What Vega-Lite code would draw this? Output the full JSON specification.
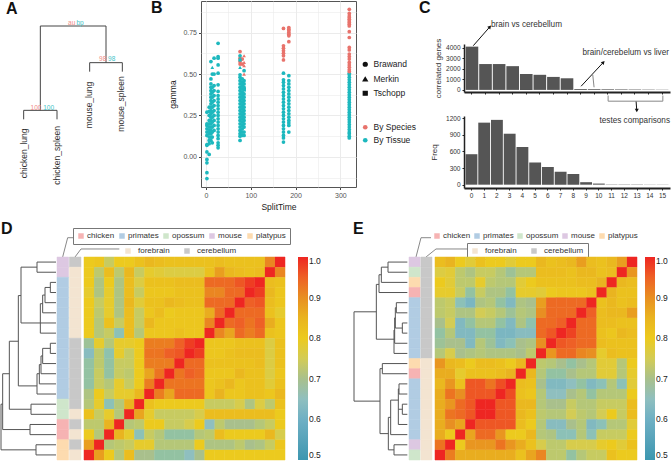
{"$schema":"https://vega.github.io/schema/vega-lite/v6.json","padding":0,"background":"white","config":{"font":"Liberation Sans","view":{"stroke":null},"axis":{"titleFontWeight":"normal"}},"spacing":8,"resolve":{"scale":{"color":"independent","shape":"independent","stroke":"independent"},"legend":{"color":"independent","shape":"independent"}},
"datasets":{
"pts":[
{"t":320,"g":0.115,"k":"By Tissue","s":"Brawand"},{"t":320,"g":0.125,"k":"By Tissue","s":"Brawand"},{"t":320,"g":0.14,"k":"By Tissue","s":"Brawand"},{"t":320,"g":0.15,"k":"By Tissue","s":"Brawand"},{"t":320,"g":0.165,"k":"By Tissue","s":"Brawand"},{"t":320,"g":0.18,"k":"By Tissue","s":"Brawand"},{"t":320,"g":0.195,"k":"By Tissue","s":"Brawand"},{"t":320,"g":0.21,"k":"By Tissue","s":"Brawand"},{"t":320,"g":0.225,"k":"By Tissue","s":"Brawand"},{"t":320,"g":0.24,"k":"By Tissue","s":"Brawand"},{"t":320,"g":0.255,"k":"By Tissue","s":"Brawand"},{"t":320,"g":0.27,"k":"By Tissue","s":"Brawand"},{"t":320,"g":0.285,"k":"By Tissue","s":"Brawand"},{"t":320,"g":0.3,"k":"By Tissue","s":"Brawand"},{"t":320,"g":0.315,"k":"By Tissue","s":"Brawand"},{"t":320,"g":0.33,"k":"By Tissue","s":"Brawand"},{"t":320,"g":0.345,"k":"By Tissue","s":"Brawand"},{"t":320,"g":0.36,"k":"By Tissue","s":"Brawand"},{"t":320,"g":0.375,"k":"By Tissue","s":"Brawand"},{"t":320,"g":0.39,"k":"By Tissue","s":"Brawand"},{"t":320,"g":0.405,"k":"By Tissue","s":"Brawand"},{"t":320,"g":0.42,"k":"By Tissue","s":"Brawand"},{"t":320,"g":0.435,"k":"By Tissue","s":"Brawand"},{"t":320,"g":0.45,"k":"By Tissue","s":"Brawand"},{"t":320,"g":0.465,"k":"By Tissue","s":"Brawand"},{"t":320,"g":0.48,"k":"By Tissue","s":"Brawand"},{"t":320,"g":0.495,"k":"By Tissue","s":"Brawand"},{"t":320,"g":0.505,"k":"By Tissue","s":"Brawand"},
{"t":320,"g":0.89,"k":"By Species","s":"Brawand"},{"t":320,"g":0.865,"k":"By Species","s":"Brawand"},{"t":320,"g":0.85,"k":"By Species","s":"Brawand"},{"t":320,"g":0.84,"k":"By Species","s":"Brawand"},{"t":320,"g":0.83,"k":"By Species","s":"Brawand"},{"t":320,"g":0.82,"k":"By Species","s":"Brawand"},{"t":320,"g":0.81,"k":"By Species","s":"Brawand"},{"t":320,"g":0.8,"k":"By Species","s":"Brawand"},{"t":320,"g":0.79,"k":"By Species","s":"Brawand"},{"t":320,"g":0.755,"k":"By Species","s":"Brawand"},{"t":320,"g":0.72,"k":"By Species","s":"Brawand"},{"t":320,"g":0.66,"k":"By Species","s":"Brawand"},{"t":320,"g":0.645,"k":"By Species","s":"Brawand"},{"t":320,"g":0.62,"k":"By Species","s":"Brawand"},{"t":320,"g":0.605,"k":"By Species","s":"Brawand"},{"t":320,"g":0.59,"k":"By Species","s":"Brawand"},{"t":320,"g":0.57,"k":"By Species","s":"Brawand"},{"t":320,"g":0.555,"k":"By Species","s":"Brawand"},{"t":320,"g":0.54,"k":"By Species","s":"Brawand"},{"t":320,"g":0.525,"k":"By Species","s":"Brawand"},{"t":320,"g":0.515,"k":"By Species","s":"Brawand"},
{"t":173,"g":0.09,"k":"By Tissue","s":"Brawand"},{"t":173,"g":0.115,"k":"By Tissue","s":"Brawand"},{"t":173,"g":0.13,"k":"By Tissue","s":"Brawand"},{"t":173,"g":0.15,"k":"By Tissue","s":"Brawand"},{"t":173,"g":0.17,"k":"By Tissue","s":"Brawand"},{"t":173,"g":0.19,"k":"By Tissue","s":"Brawand"},{"t":173,"g":0.21,"k":"By Tissue","s":"Brawand"},{"t":173,"g":0.23,"k":"By Tissue","s":"Brawand"},{"t":173,"g":0.25,"k":"By Tissue","s":"Brawand"},{"t":173,"g":0.27,"k":"By Tissue","s":"Brawand"},{"t":173,"g":0.29,"k":"By Tissue","s":"Brawand"},{"t":173,"g":0.31,"k":"By Tissue","s":"Brawand"},{"t":173,"g":0.33,"k":"By Tissue","s":"Brawand"},{"t":173,"g":0.35,"k":"By Tissue","s":"Brawand"},{"t":173,"g":0.37,"k":"By Tissue","s":"Brawand"},{"t":173,"g":0.39,"k":"By Tissue","s":"Brawand"},{"t":173,"g":0.41,"k":"By Tissue","s":"Brawand"},{"t":173,"g":0.43,"k":"By Tissue","s":"Brawand"},{"t":173,"g":0.45,"k":"By Tissue","s":"Brawand"},{"t":173,"g":0.465,"k":"By Tissue","s":"Brawand"},{"t":173,"g":0.505,"k":"By Tissue","s":"Brawand"},
{"t":173,"g":0.585,"k":"By Species","s":"Brawand"},{"t":173,"g":0.61,"k":"By Species","s":"Brawand"},{"t":173,"g":0.625,"k":"By Species","s":"Brawand"},{"t":173,"g":0.64,"k":"By Species","s":"Brawand"},{"t":173,"g":0.655,"k":"By Species","s":"Brawand"},{"t":173,"g":0.67,"k":"By Species","s":"Brawand"},{"t":173,"g":0.775,"k":"By Species","s":"Brawand"},
{"t":185,"g":0.15,"k":"By Tissue","s":"Brawand"},{"t":185,"g":0.19,"k":"By Tissue","s":"Brawand"},{"t":185,"g":0.205,"k":"By Tissue","s":"Brawand"},{"t":185,"g":0.22,"k":"By Tissue","s":"Brawand"},{"t":185,"g":0.24,"k":"By Tissue","s":"Brawand"},{"t":185,"g":0.26,"k":"By Tissue","s":"Brawand"},{"t":185,"g":0.28,"k":"By Tissue","s":"Brawand"},{"t":185,"g":0.3,"k":"By Tissue","s":"Brawand"},{"t":185,"g":0.32,"k":"By Tissue","s":"Brawand"},{"t":185,"g":0.34,"k":"By Tissue","s":"Brawand"},{"t":185,"g":0.36,"k":"By Tissue","s":"Brawand"},{"t":185,"g":0.38,"k":"By Tissue","s":"Brawand"},{"t":185,"g":0.4,"k":"By Tissue","s":"Brawand"},{"t":185,"g":0.42,"k":"By Tissue","s":"Brawand"},{"t":185,"g":0.44,"k":"By Tissue","s":"Brawand"},{"t":185,"g":0.46,"k":"By Tissue","s":"Brawand"},{"t":185,"g":0.49,"k":"By Tissue","s":"Brawand"},
{"t":185,"g":0.695,"k":"By Species","s":"Brawand"},{"t":185,"g":0.73,"k":"By Species","s":"Brawand"},{"t":185,"g":0.74,"k":"By Species","s":"Brawand"},{"t":185,"g":0.75,"k":"By Species","s":"Brawand"},{"t":185,"g":0.76,"k":"By Species","s":"Brawand"},{"t":185,"g":0.77,"k":"By Species","s":"Brawand"},{"t":185,"g":0.78,"k":"By Species","s":"Brawand"},
{"t":76,"g":0.635,"k":"By Species","s":"Brawand"},{"t":76,"g":0.595,"k":"By Species","s":"Brawand"},{"t":76,"g":0.575,"k":"By Species","s":"Brawand"},{"t":76,"g":0.56,"k":"By Species","s":"Brawand"},{"t":81,"g":0.59,"k":"By Species","s":"Brawand"},{"t":81,"g":0.56,"k":"By Species","s":"Brawand"},{"t":85,"g":0.61,"k":"By Species","s":"Merkin"},{"t":85,"g":0.57,"k":"By Species","s":"Merkin"},{"t":85,"g":0.55,"k":"By Species","s":"Merkin"},{"t":85,"g":0.5,"k":"By Species","s":"Merkin"},
{"t":76,"g":0.1,"k":"By Tissue","s":"Brawand"},{"t":76,"g":0.125,"k":"By Tissue","s":"Brawand"},{"t":76,"g":0.14,"k":"By Tissue","s":"Brawand"},{"t":76,"g":0.16,"k":"By Tissue","s":"Brawand"},{"t":76,"g":0.18,"k":"By Tissue","s":"Brawand"},{"t":76,"g":0.2,"k":"By Tissue","s":"Brawand"},{"t":76,"g":0.22,"k":"By Tissue","s":"Brawand"},{"t":76,"g":0.24,"k":"By Tissue","s":"Brawand"},{"t":76,"g":0.26,"k":"By Tissue","s":"Brawand"},{"t":76,"g":0.28,"k":"By Tissue","s":"Brawand"},{"t":76,"g":0.3,"k":"By Tissue","s":"Brawand"},{"t":76,"g":0.32,"k":"By Tissue","s":"Brawand"},{"t":76,"g":0.34,"k":"By Tissue","s":"Brawand"},{"t":76,"g":0.36,"k":"By Tissue","s":"Brawand"},{"t":76,"g":0.38,"k":"By Tissue","s":"Brawand"},{"t":76,"g":0.4,"k":"By Tissue","s":"Brawand"},{"t":76,"g":0.42,"k":"By Tissue","s":"Brawand"},{"t":76,"g":0.44,"k":"By Tissue","s":"Brawand"},{"t":76,"g":0.46,"k":"By Tissue","s":"Brawand"},{"t":76,"g":0.48,"k":"By Tissue","s":"Brawand"},{"t":76,"g":0.495,"k":"By Tissue","s":"Brawand"},{"t":76,"g":0.54,"k":"By Tissue","s":"Merkin"},{"t":76,"g":0.585,"k":"By Tissue","s":"Brawand"},{"t":76,"g":0.61,"k":"By Tissue","s":"Brawand"},
{"t":81,"g":0.13,"k":"By Tissue","s":"Brawand"},{"t":81,"g":0.15,"k":"By Tissue","s":"Brawand"},{"t":81,"g":0.17,"k":"By Tissue","s":"Brawand"},{"t":81,"g":0.19,"k":"By Tissue","s":"Brawand"},{"t":81,"g":0.21,"k":"By Tissue","s":"Brawand"},{"t":81,"g":0.23,"k":"By Tissue","s":"Brawand"},{"t":81,"g":0.25,"k":"By Tissue","s":"Brawand"},{"t":81,"g":0.27,"k":"By Tissue","s":"Brawand"},{"t":81,"g":0.29,"k":"By Tissue","s":"Brawand"},{"t":81,"g":0.31,"k":"By Tissue","s":"Brawand"},{"t":81,"g":0.33,"k":"By Tissue","s":"Brawand"},{"t":81,"g":0.35,"k":"By Tissue","s":"Brawand"},{"t":81,"g":0.37,"k":"By Tissue","s":"Brawand"},{"t":81,"g":0.39,"k":"By Tissue","s":"Brawand"},{"t":81,"g":0.41,"k":"By Tissue","s":"Brawand"},{"t":81,"g":0.43,"k":"By Tissue","s":"Brawand"},{"t":81,"g":0.45,"k":"By Tissue","s":"Brawand"},{"t":81,"g":0.47,"k":"By Tissue","s":"Brawand"},
{"t":85,"g":0.13,"k":"By Tissue","s":"Brawand"},{"t":85,"g":0.15,"k":"By Tissue","s":"Brawand"},{"t":85,"g":0.18,"k":"By Tissue","s":"Brawand"},{"t":85,"g":0.2,"k":"By Tissue","s":"Brawand"},{"t":85,"g":0.22,"k":"By Tissue","s":"Brawand"},{"t":85,"g":0.24,"k":"By Tissue","s":"Brawand"},{"t":85,"g":0.26,"k":"By Tissue","s":"Brawand"},{"t":85,"g":0.28,"k":"By Tissue","s":"Brawand"},{"t":85,"g":0.3,"k":"By Tissue","s":"Brawand"},{"t":85,"g":0.32,"k":"By Tissue","s":"Brawand"},{"t":85,"g":0.34,"k":"By Tissue","s":"Brawand"},{"t":85,"g":0.36,"k":"By Tissue","s":"Brawand"},{"t":85,"g":0.38,"k":"By Tissue","s":"Brawand"},{"t":85,"g":0.405,"k":"By Tissue","s":"Tschopp"},{"t":85,"g":0.42,"k":"By Tissue","s":"Brawand"},{"t":85,"g":0.44,"k":"By Tissue","s":"Brawand"},{"t":85,"g":0.46,"k":"By Tissue","s":"Brawand"},{"t":85,"g":0.52,"k":"By Tissue","s":"Brawand"},
{"t":2,"g":-0.13,"k":"By Tissue","s":"Brawand"},{"t":2,"g":-0.095,"k":"By Tissue","s":"Brawand"},{"t":2,"g":-0.035,"k":"By Tissue","s":"Brawand"},{"t":2,"g":-0.015,"k":"By Tissue","s":"Brawand"},{"t":2,"g":0.03,"k":"By Tissue","s":"Brawand"},{"t":2,"g":0.07,"k":"By Tissue","s":"Brawand"},{"t":2,"g":0.075,"k":"By Tissue","s":"Brawand"},{"t":2,"g":0.13,"k":"By Tissue","s":"Brawand"},{"t":2,"g":0.15,"k":"By Tissue","s":"Brawand"},{"t":2,"g":0.17,"k":"By Tissue","s":"Brawand"},{"t":2,"g":0.19,"k":"By Tissue","s":"Brawand"},{"t":2,"g":0.2,"k":"By Tissue","s":"Brawand"},{"t":2,"g":0.27,"k":"By Tissue","s":"Brawand"},
{"t":7,"g":0.015,"k":"By Tissue","s":"Brawand"},{"t":7,"g":0.08,"k":"By Tissue","s":"Brawand"},{"t":7,"g":0.1,"k":"By Tissue","s":"Brawand"},{"t":7,"g":0.12,"k":"By Tissue","s":"Brawand"},{"t":7,"g":0.14,"k":"By Tissue","s":"Brawand"},{"t":7,"g":0.16,"k":"By Tissue","s":"Brawand"},{"t":7,"g":0.18,"k":"By Tissue","s":"Brawand"},{"t":7,"g":0.2,"k":"By Tissue","s":"Brawand"},{"t":7,"g":0.22,"k":"By Tissue","s":"Brawand"},{"t":7,"g":0.25,"k":"By Tissue","s":"Brawand"},{"t":7,"g":0.275,"k":"By Tissue","s":"Brawand"},{"t":7,"g":0.3,"k":"By Tissue","s":"Brawand"},
{"t":11,"g":0.1,"k":"By Tissue","s":"Brawand"},{"t":11,"g":0.12,"k":"By Tissue","s":"Brawand"},{"t":11,"g":0.14,"k":"By Tissue","s":"Brawand"},{"t":11,"g":0.16,"k":"By Tissue","s":"Brawand"},{"t":11,"g":0.18,"k":"By Tissue","s":"Brawand"},{"t":11,"g":0.2,"k":"By Tissue","s":"Brawand"},{"t":11,"g":0.22,"k":"By Tissue","s":"Brawand"},{"t":11,"g":0.24,"k":"By Tissue","s":"Brawand"},{"t":11,"g":0.26,"k":"By Tissue","s":"Brawand"},{"t":11,"g":0.28,"k":"By Tissue","s":"Brawand"},{"t":11,"g":0.3,"k":"By Tissue","s":"Brawand"},{"t":11,"g":0.32,"k":"By Tissue","s":"Brawand"},{"t":11,"g":0.34,"k":"By Tissue","s":"Brawand"},{"t":11,"g":0.36,"k":"By Tissue","s":"Brawand"},{"t":11,"g":0.38,"k":"By Tissue","s":"Brawand"},{"t":11,"g":0.4,"k":"By Tissue","s":"Brawand"},{"t":11,"g":0.42,"k":"By Tissue","s":"Brawand"},{"t":11,"g":0.44,"k":"By Tissue","s":"Brawand"},{"t":11,"g":0.47,"k":"By Tissue","s":"Brawand"},{"t":11,"g":0.575,"k":"By Tissue","s":"Brawand"},
{"t":14,"g":0.085,"k":"By Tissue","s":"Brawand"},{"t":14,"g":0.12,"k":"By Tissue","s":"Brawand"},{"t":14,"g":0.15,"k":"By Tissue","s":"Brawand"},{"t":14,"g":0.18,"k":"By Tissue","s":"Brawand"},{"t":14,"g":0.21,"k":"By Tissue","s":"Brawand"},{"t":14,"g":0.24,"k":"By Tissue","s":"Brawand"},{"t":14,"g":0.27,"k":"By Tissue","s":"Brawand"},{"t":14,"g":0.3,"k":"By Tissue","s":"Brawand"},{"t":14,"g":0.33,"k":"By Tissue","s":"Brawand"},{"t":14,"g":0.36,"k":"By Tissue","s":"Brawand"},{"t":14,"g":0.39,"k":"By Tissue","s":"Brawand"},{"t":14,"g":0.42,"k":"By Tissue","s":"Brawand"},{"t":14,"g":0.5,"k":"By Tissue","s":"Brawand"},{"t":14,"g":0.54,"k":"By Tissue","s":"Merkin"},
{"t":18,"g":0.16,"k":"By Tissue","s":"Brawand"},{"t":18,"g":0.19,"k":"By Tissue","s":"Brawand"},{"t":18,"g":0.22,"k":"By Tissue","s":"Brawand"},{"t":18,"g":0.25,"k":"By Tissue","s":"Brawand"},{"t":18,"g":0.28,"k":"By Tissue","s":"Brawand"},{"t":18,"g":0.31,"k":"By Tissue","s":"Brawand"},{"t":18,"g":0.34,"k":"By Tissue","s":"Brawand"},{"t":18,"g":0.37,"k":"By Tissue","s":"Brawand"},{"t":18,"g":0.4,"k":"By Tissue","s":"Brawand"},{"t":18,"g":0.43,"k":"By Tissue","s":"Brawand"},{"t":18,"g":0.5,"k":"By Tissue","s":"Brawand"},{"t":18,"g":0.595,"k":"By Tissue","s":"Brawand"},
{"t":27,"g":0.055,"k":"By Tissue","s":"Brawand"},{"t":27,"g":0.07,"k":"By Tissue","s":"Brawand"},{"t":27,"g":0.085,"k":"By Tissue","s":"Brawand"},{"t":27,"g":0.11,"k":"By Tissue","s":"Brawand"},{"t":27,"g":0.13,"k":"By Tissue","s":"Brawand"},{"t":27,"g":0.15,"k":"By Tissue","s":"Brawand"},{"t":27,"g":0.17,"k":"By Tissue","s":"Brawand"},{"t":27,"g":0.19,"k":"By Tissue","s":"Brawand"},{"t":27,"g":0.21,"k":"By Tissue","s":"Brawand"},{"t":27,"g":0.23,"k":"By Tissue","s":"Brawand"},{"t":27,"g":0.25,"k":"By Tissue","s":"Brawand"},{"t":27,"g":0.27,"k":"By Tissue","s":"Brawand"},{"t":27,"g":0.29,"k":"By Tissue","s":"Brawand"},{"t":27,"g":0.31,"k":"By Tissue","s":"Brawand"},{"t":27,"g":0.33,"k":"By Tissue","s":"Brawand"},{"t":27,"g":0.35,"k":"By Tissue","s":"Brawand"},{"t":27,"g":0.37,"k":"By Tissue","s":"Brawand"},{"t":27,"g":0.395,"k":"By Tissue","s":"Brawand"},{"t":27,"g":0.435,"k":"By Tissue","s":"Brawand"},{"t":27,"g":0.505,"k":"By Tissue","s":"Brawand"},{"t":27,"g":0.555,"k":"By Tissue","s":"Brawand"},{"t":27,"g":0.595,"k":"By Tissue","s":"Brawand"},{"t":27,"g":0.605,"k":"By Tissue","s":"Brawand"},{"t":27,"g":0.685,"k":"By Tissue","s":"Brawand"}
],
"hd":[
{"r":0,"c":0,"v":0.8},{"r":0,"c":1,"v":0.81},{"r":0,"c":2,"v":0.74},{"r":0,"c":3,"v":0.8},{"r":0,"c":4,"v":0.8},{"r":0,"c":5,"v":0.82},{"r":0,"c":6,"v":0.84},{"r":0,"c":7,"v":0.83},{"r":0,"c":8,"v":0.82},{"r":0,"c":9,"v":0.82},{"r":0,"c":10,"v":0.82},{"r":0,"c":11,"v":0.82},{"r":0,"c":12,"v":0.82},{"r":0,"c":13,"v":0.83},{"r":0,"c":14,"v":0.82},{"r":0,"c":15,"v":0.82},{"r":0,"c":16,"v":0.82},{"r":0,"c":17,"v":0.82},{"r":0,"c":18,"v":0.91},{"r":0,"c":19,"v":1},
{"r":1,"c":0,"v":0.8},{"r":1,"c":1,"v":0.73},{"r":1,"c":2,"v":0.83},{"r":1,"c":3,"v":0.73},{"r":1,"c":4,"v":0.84},{"r":1,"c":5,"v":0.74},{"r":1,"c":6,"v":0.79},{"r":1,"c":7,"v":0.78},{"r":1,"c":8,"v":0.77},{"r":1,"c":9,"v":0.77},{"r":1,"c":10,"v":0.77},{"r":1,"c":11,"v":0.77},{"r":1,"c":12,"v":0.82},{"r":1,"c":13,"v":0.88},{"r":1,"c":14,"v":0.84},{"r":1,"c":15,"v":0.83},{"r":1,"c":16,"v":0.82},{"r":1,"c":17,"v":0.83},{"r":1,"c":18,"v":1},{"r":1,"c":19,"v":0.91},
{"r":2,"c":0,"v":0.8},{"r":2,"c":1,"v":0.71},{"r":2,"c":2,"v":0.8},{"r":2,"c":3,"v":0.71},{"r":2,"c":4,"v":0.83},{"r":2,"c":5,"v":0.77},{"r":2,"c":6,"v":0.82},{"r":2,"c":7,"v":0.82},{"r":2,"c":8,"v":0.82},{"r":2,"c":9,"v":0.83},{"r":2,"c":10,"v":0.83},{"r":2,"c":11,"v":0.83},{"r":2,"c":12,"v":0.94},{"r":2,"c":13,"v":0.94},{"r":2,"c":14,"v":0.94},{"r":2,"c":15,"v":0.96},{"r":2,"c":16,"v":0.985},{"r":2,"c":17,"v":1},{"r":2,"c":18,"v":0.83},{"r":2,"c":19,"v":0.82},
{"r":3,"c":0,"v":0.79},{"r":3,"c":1,"v":0.71},{"r":3,"c":2,"v":0.79},{"r":3,"c":3,"v":0.71},{"r":3,"c":4,"v":0.83},{"r":3,"c":5,"v":0.74},{"r":3,"c":6,"v":0.81},{"r":3,"c":7,"v":0.81},{"r":3,"c":8,"v":0.81},{"r":3,"c":9,"v":0.82},{"r":3,"c":10,"v":0.82},{"r":3,"c":11,"v":0.82},{"r":3,"c":12,"v":0.91},{"r":3,"c":13,"v":0.91},{"r":3,"c":14,"v":0.94},{"r":3,"c":15,"v":0.94},{"r":3,"c":16,"v":1},{"r":3,"c":17,"v":0.985},{"r":3,"c":18,"v":0.84},{"r":3,"c":19,"v":0.81},
{"r":4,"c":0,"v":0.8},{"r":4,"c":1,"v":0.74},{"r":4,"c":2,"v":0.79},{"r":4,"c":3,"v":0.71},{"r":4,"c":4,"v":0.84},{"r":4,"c":5,"v":0.78},{"r":4,"c":6,"v":0.82},{"r":4,"c":7,"v":0.82},{"r":4,"c":8,"v":0.84},{"r":4,"c":9,"v":0.83},{"r":4,"c":10,"v":0.82},{"r":4,"c":11,"v":0.82},{"r":4,"c":12,"v":0.94},{"r":4,"c":13,"v":0.94},{"r":4,"c":14,"v":0.94},{"r":4,"c":15,"v":1},{"r":4,"c":16,"v":0.95},{"r":4,"c":17,"v":0.96},{"r":4,"c":18,"v":0.83},{"r":4,"c":19,"v":0.81},
{"r":5,"c":0,"v":0.8},{"r":5,"c":1,"v":0.73},{"r":5,"c":2,"v":0.79},{"r":5,"c":3,"v":0.71},{"r":5,"c":4,"v":0.83},{"r":5,"c":5,"v":0.74},{"r":5,"c":6,"v":0.81},{"r":5,"c":7,"v":0.83},{"r":5,"c":8,"v":0.8},{"r":5,"c":9,"v":0.81},{"r":5,"c":10,"v":0.81},{"r":5,"c":11,"v":0.81},{"r":5,"c":12,"v":0.86},{"r":5,"c":13,"v":0.94},{"r":5,"c":14,"v":1},{"r":5,"c":15,"v":0.94},{"r":5,"c":16,"v":0.94},{"r":5,"c":17,"v":0.94},{"r":5,"c":18,"v":0.82},{"r":5,"c":19,"v":0.79},
{"r":6,"c":0,"v":0.8},{"r":6,"c":1,"v":0.72},{"r":6,"c":2,"v":0.82},{"r":6,"c":3,"v":0.74},{"r":6,"c":4,"v":0.83},{"r":6,"c":5,"v":0.74},{"r":6,"c":6,"v":0.84},{"r":6,"c":7,"v":0.81},{"r":6,"c":8,"v":0.81},{"r":6,"c":9,"v":0.81},{"r":6,"c":10,"v":0.81},{"r":6,"c":11,"v":0.81},{"r":6,"c":12,"v":0.91},{"r":6,"c":13,"v":1},{"r":6,"c":14,"v":0.94},{"r":6,"c":15,"v":0.95},{"r":6,"c":16,"v":0.93},{"r":6,"c":17,"v":0.95},{"r":6,"c":18,"v":0.86},{"r":6,"c":19,"v":0.81},
{"r":7,"c":0,"v":0.8},{"r":7,"c":1,"v":0.72},{"r":7,"c":2,"v":0.74},{"r":7,"c":3,"v":0.66},{"r":7,"c":4,"v":0.83},{"r":7,"c":5,"v":0.72},{"r":7,"c":6,"v":0.81},{"r":7,"c":7,"v":0.81},{"r":7,"c":8,"v":0.81},{"r":7,"c":9,"v":0.82},{"r":7,"c":10,"v":0.81},{"r":7,"c":11,"v":0.81},{"r":7,"c":12,"v":1},{"r":7,"c":13,"v":0.91},{"r":7,"c":14,"v":0.87},{"r":7,"c":15,"v":0.94},{"r":7,"c":16,"v":0.92},{"r":7,"c":17,"v":0.94},{"r":7,"c":18,"v":0.82},{"r":7,"c":19,"v":0.81},
{"r":8,"c":0,"v":0.69},{"r":8,"c":1,"v":0.79},{"r":8,"c":2,"v":0.72},{"r":8,"c":3,"v":0.79},{"r":8,"c":4,"v":0.79},{"r":8,"c":5,"v":0.8},{"r":8,"c":6,"v":0.92},{"r":8,"c":7,"v":0.92},{"r":8,"c":8,"v":0.92},{"r":8,"c":9,"v":0.95},{"r":8,"c":10,"v":0.985},{"r":8,"c":11,"v":1},{"r":8,"c":12,"v":0.81},{"r":8,"c":13,"v":0.81},{"r":8,"c":14,"v":0.81},{"r":8,"c":15,"v":0.82},{"r":8,"c":16,"v":0.82},{"r":8,"c":17,"v":0.82},{"r":8,"c":18,"v":0.77},{"r":8,"c":19,"v":0.82},
{"r":9,"c":0,"v":0.64},{"r":9,"c":1,"v":0.73},{"r":9,"c":2,"v":0.67},{"r":9,"c":3,"v":0.79},{"r":9,"c":4,"v":0.74},{"r":9,"c":5,"v":0.8},{"r":9,"c":6,"v":0.93},{"r":9,"c":7,"v":0.93},{"r":9,"c":8,"v":0.95},{"r":9,"c":9,"v":0.96},{"r":9,"c":10,"v":1},{"r":9,"c":11,"v":0.985},{"r":9,"c":12,"v":0.81},{"r":9,"c":13,"v":0.81},{"r":9,"c":14,"v":0.82},{"r":9,"c":15,"v":0.83},{"r":9,"c":16,"v":0.83},{"r":9,"c":17,"v":0.83},{"r":9,"c":18,"v":0.77},{"r":9,"c":19,"v":0.82},
{"r":10,"c":0,"v":0.68},{"r":10,"c":1,"v":0.73},{"r":10,"c":2,"v":0.68},{"r":10,"c":3,"v":0.74},{"r":10,"c":4,"v":0.74},{"r":10,"c":5,"v":0.8},{"r":10,"c":6,"v":0.92},{"r":10,"c":7,"v":0.92},{"r":10,"c":8,"v":0.92},{"r":10,"c":9,"v":1},{"r":10,"c":10,"v":0.94},{"r":10,"c":11,"v":0.94},{"r":10,"c":12,"v":0.82},{"r":10,"c":13,"v":0.82},{"r":10,"c":14,"v":0.82},{"r":10,"c":15,"v":0.82},{"r":10,"c":16,"v":0.82},{"r":10,"c":17,"v":0.83},{"r":10,"c":18,"v":0.77},{"r":10,"c":19,"v":0.82},
{"r":11,"c":0,"v":0.68},{"r":11,"c":1,"v":0.74},{"r":11,"c":2,"v":0.68},{"r":11,"c":3,"v":0.74},{"r":11,"c":4,"v":0.73},{"r":11,"c":5,"v":0.8},{"r":11,"c":6,"v":0.87},{"r":11,"c":7,"v":0.93},{"r":11,"c":8,"v":1},{"r":11,"c":9,"v":0.93},{"r":11,"c":10,"v":0.95},{"r":11,"c":11,"v":0.94},{"r":11,"c":12,"v":0.81},{"r":11,"c":13,"v":0.81},{"r":11,"c":14,"v":0.81},{"r":11,"c":15,"v":0.84},{"r":11,"c":16,"v":0.82},{"r":11,"c":17,"v":0.82},{"r":11,"c":18,"v":0.77},{"r":11,"c":19,"v":0.81},
{"r":12,"c":0,"v":0.68},{"r":12,"c":1,"v":0.74},{"r":12,"c":2,"v":0.72},{"r":12,"c":3,"v":0.79},{"r":12,"c":4,"v":0.74},{"r":12,"c":5,"v":0.8},{"r":12,"c":6,"v":0.92},{"r":12,"c":7,"v":1},{"r":12,"c":8,"v":0.93},{"r":12,"c":9,"v":0.93},{"r":12,"c":10,"v":0.93},{"r":12,"c":11,"v":0.93},{"r":12,"c":12,"v":0.81},{"r":12,"c":13,"v":0.82},{"r":12,"c":14,"v":0.84},{"r":12,"c":15,"v":0.81},{"r":12,"c":16,"v":0.82},{"r":12,"c":17,"v":0.82},{"r":12,"c":18,"v":0.78},{"r":12,"c":19,"v":0.82},
{"r":13,"c":0,"v":0.71},{"r":13,"c":1,"v":0.8},{"r":13,"c":2,"v":0.74},{"r":13,"c":3,"v":0.79},{"r":13,"c":4,"v":0.79},{"r":13,"c":5,"v":0.84},{"r":13,"c":6,"v":1},{"r":13,"c":7,"v":0.92},{"r":13,"c":8,"v":0.87},{"r":13,"c":9,"v":0.94},{"r":13,"c":10,"v":0.94},{"r":13,"c":11,"v":0.94},{"r":13,"c":12,"v":0.81},{"r":13,"c":13,"v":0.85},{"r":13,"c":14,"v":0.81},{"r":13,"c":15,"v":0.81},{"r":13,"c":16,"v":0.82},{"r":13,"c":17,"v":0.82},{"r":13,"c":18,"v":0.81},{"r":13,"c":19,"v":0.84},
{"r":14,"c":0,"v":0.72},{"r":14,"c":1,"v":0.79},{"r":14,"c":2,"v":0.66},{"r":14,"c":3,"v":0.72},{"r":14,"c":4,"v":0.85},{"r":14,"c":5,"v":1},{"r":14,"c":6,"v":0.82},{"r":14,"c":7,"v":0.8},{"r":14,"c":8,"v":0.8},{"r":14,"c":9,"v":0.8},{"r":14,"c":10,"v":0.8},{"r":14,"c":11,"v":0.8},{"r":14,"c":12,"v":0.74},{"r":14,"c":13,"v":0.74},{"r":14,"c":14,"v":0.74},{"r":14,"c":15,"v":0.76},{"r":14,"c":16,"v":0.71},{"r":14,"c":17,"v":0.77},{"r":14,"c":18,"v":0.73},{"r":14,"c":19,"v":0.82},
{"r":15,"c":0,"v":0.82},{"r":15,"c":1,"v":0.74},{"r":15,"c":2,"v":0.79},{"r":15,"c":3,"v":0.72},{"r":15,"c":4,"v":1},{"r":15,"c":5,"v":0.87},{"r":15,"c":6,"v":0.79},{"r":15,"c":7,"v":0.74},{"r":15,"c":8,"v":0.74},{"r":15,"c":9,"v":0.74},{"r":15,"c":10,"v":0.74},{"r":15,"c":11,"v":0.76},{"r":15,"c":12,"v":0.83},{"r":15,"c":13,"v":0.83},{"r":15,"c":14,"v":0.83},{"r":15,"c":15,"v":0.83},{"r":15,"c":16,"v":0.83},{"r":15,"c":17,"v":0.83},{"r":15,"c":18,"v":0.83},{"r":15,"c":19,"v":0.8},
{"r":16,"c":0,"v":0.73},{"r":16,"c":1,"v":0.73},{"r":16,"c":2,"v":0.85},{"r":16,"c":3,"v":1},{"r":16,"c":4,"v":0.72},{"r":16,"c":5,"v":0.73},{"r":16,"c":6,"v":0.8},{"r":16,"c":7,"v":0.8},{"r":16,"c":8,"v":0.74},{"r":16,"c":9,"v":0.74},{"r":16,"c":10,"v":0.76},{"r":16,"c":11,"v":0.8},{"r":16,"c":12,"v":0.65},{"r":16,"c":13,"v":0.73},{"r":16,"c":14,"v":0.7},{"r":16,"c":15,"v":0.7},{"r":16,"c":16,"v":0.7},{"r":16,"c":17,"v":0.72},{"r":16,"c":18,"v":0.74},{"r":16,"c":19,"v":0.8},
{"r":17,"c":0,"v":0.8},{"r":17,"c":1,"v":0.72},{"r":17,"c":2,"v":1},{"r":17,"c":3,"v":0.85},{"r":17,"c":4,"v":0.79},{"r":17,"c":5,"v":0.66},{"r":17,"c":6,"v":0.74},{"r":17,"c":7,"v":0.72},{"r":17,"c":8,"v":0.68},{"r":17,"c":9,"v":0.68},{"r":17,"c":10,"v":0.68},{"r":17,"c":11,"v":0.72},{"r":17,"c":12,"v":0.73},{"r":17,"c":13,"v":0.83},{"r":17,"c":14,"v":0.8},{"r":17,"c":15,"v":0.8},{"r":17,"c":16,"v":0.8},{"r":17,"c":17,"v":0.8},{"r":17,"c":18,"v":0.84},{"r":17,"c":19,"v":0.76},
{"r":18,"c":0,"v":0.88},{"r":18,"c":1,"v":1},{"r":18,"c":2,"v":0.72},{"r":18,"c":3,"v":0.73},{"r":18,"c":4,"v":0.74},{"r":18,"c":5,"v":0.79},{"r":18,"c":6,"v":0.79},{"r":18,"c":7,"v":0.72},{"r":18,"c":8,"v":0.72},{"r":18,"c":9,"v":0.72},{"r":18,"c":10,"v":0.72},{"r":18,"c":11,"v":0.8},{"r":18,"c":12,"v":0.71},{"r":18,"c":13,"v":0.71},{"r":18,"c":14,"v":0.71},{"r":18,"c":15,"v":0.73},{"r":18,"c":16,"v":0.7},{"r":18,"c":17,"v":0.71},{"r":18,"c":18,"v":0.74},{"r":18,"c":19,"v":0.81},
{"r":19,"c":0,"v":1},{"r":19,"c":1,"v":0.88},{"r":19,"c":2,"v":0.8},{"r":19,"c":3,"v":0.72},{"r":19,"c":4,"v":0.83},{"r":19,"c":5,"v":0.7},{"r":19,"c":6,"v":0.7},{"r":19,"c":7,"v":0.68},{"r":19,"c":8,"v":0.68},{"r":19,"c":9,"v":0.68},{"r":19,"c":10,"v":0.65},{"r":19,"c":11,"v":0.7},{"r":19,"c":12,"v":0.8},{"r":19,"c":13,"v":0.8},{"r":19,"c":14,"v":0.8},{"r":19,"c":15,"v":0.8},{"r":19,"c":16,"v":0.8},{"r":19,"c":17,"v":0.8},{"r":19,"c":18,"v":0.8},{"r":19,"c":19,"v":0.8}
],
"he":[
{"r":0,"c":0,"v":0.83},{"r":0,"c":1,"v":0.85},{"r":0,"c":2,"v":0.8},{"r":0,"c":3,"v":0.78},{"r":0,"c":4,"v":0.82},{"r":0,"c":5,"v":0.8},{"r":0,"c":6,"v":0.8},{"r":0,"c":7,"v":0.78},{"r":0,"c":8,"v":0.8},{"r":0,"c":9,"v":0.8},{"r":0,"c":10,"v":0.84},{"r":0,"c":11,"v":0.82},{"r":0,"c":12,"v":0.83},{"r":0,"c":13,"v":0.84},{"r":0,"c":14,"v":0.88},{"r":0,"c":15,"v":0.83},{"r":0,"c":16,"v":0.82},{"r":0,"c":17,"v":0.84},{"r":0,"c":18,"v":0.88},{"r":0,"c":19,"v":1},
{"r":1,"c":0,"v":0.77},{"r":1,"c":1,"v":0.78},{"r":1,"c":2,"v":0.73},{"r":1,"c":3,"v":0.71},{"r":1,"c":4,"v":0.74},{"r":1,"c":5,"v":0.74},{"r":1,"c":6,"v":0.72},{"r":1,"c":7,"v":0.69},{"r":1,"c":8,"v":0.72},{"r":1,"c":9,"v":0.72},{"r":1,"c":10,"v":0.83},{"r":1,"c":11,"v":0.83},{"r":1,"c":12,"v":0.83},{"r":1,"c":13,"v":0.82},{"r":1,"c":14,"v":0.84},{"r":1,"c":15,"v":0.84},{"r":1,"c":16,"v":0.82},{"r":1,"c":17,"v":0.83},{"r":1,"c":18,"v":1},{"r":1,"c":19,"v":0.89},
{"r":2,"c":0,"v":0.8},{"r":2,"c":1,"v":0.78},{"r":2,"c":2,"v":0.73},{"r":2,"c":3,"v":0.73},{"r":2,"c":4,"v":0.79},{"r":2,"c":5,"v":0.73},{"r":2,"c":6,"v":0.72},{"r":2,"c":7,"v":0.72},{"r":2,"c":8,"v":0.78},{"r":2,"c":9,"v":0.8},{"r":2,"c":10,"v":0.82},{"r":2,"c":11,"v":0.82},{"r":2,"c":12,"v":0.82},{"r":2,"c":13,"v":0.82},{"r":2,"c":14,"v":0.83},{"r":2,"c":15,"v":0.83},{"r":2,"c":16,"v":0.85},{"r":2,"c":17,"v":1},{"r":2,"c":18,"v":0.84},{"r":2,"c":19,"v":0.83},
{"r":3,"c":0,"v":0.79},{"r":3,"c":1,"v":0.79},{"r":3,"c":2,"v":0.74},{"r":3,"c":3,"v":0.68},{"r":3,"c":4,"v":0.74},{"r":3,"c":5,"v":0.71},{"r":3,"c":6,"v":0.71},{"r":3,"c":7,"v":0.68},{"r":3,"c":8,"v":0.79},{"r":3,"c":9,"v":0.79},{"r":3,"c":10,"v":0.78},{"r":3,"c":11,"v":0.8},{"r":3,"c":12,"v":0.81},{"r":3,"c":13,"v":0.81},{"r":3,"c":14,"v":0.81},{"r":3,"c":15,"v":0.82},{"r":3,"c":16,"v":1},{"r":3,"c":17,"v":0.85},{"r":3,"c":18,"v":0.82},{"r":3,"c":19,"v":0.82},
{"r":4,"c":0,"v":0.73},{"r":4,"c":1,"v":0.74},{"r":4,"c":2,"v":0.66},{"r":4,"c":3,"v":0.62},{"r":4,"c":4,"v":0.71},{"r":4,"c":5,"v":0.72},{"r":4,"c":6,"v":0.68},{"r":4,"c":7,"v":0.63},{"r":4,"c":8,"v":0.71},{"r":4,"c":9,"v":0.7},{"r":4,"c":10,"v":0.88},{"r":4,"c":11,"v":0.94},{"r":4,"c":12,"v":0.94},{"r":4,"c":13,"v":0.94},{"r":4,"c":14,"v":0.94},{"r":4,"c":15,"v":1},{"r":4,"c":16,"v":0.82},{"r":4,"c":17,"v":0.84},{"r":4,"c":18,"v":0.82},{"r":4,"c":19,"v":0.83},
{"r":5,"c":0,"v":0.73},{"r":5,"c":1,"v":0.74},{"r":5,"c":2,"v":0.71},{"r":5,"c":3,"v":0.71},{"r":5,"c":4,"v":0.75},{"r":5,"c":5,"v":0.74},{"r":5,"c":6,"v":0.72},{"r":5,"c":7,"v":0.69},{"r":5,"c":8,"v":0.72},{"r":5,"c":9,"v":0.71},{"r":5,"c":10,"v":0.9},{"r":5,"c":11,"v":0.94},{"r":5,"c":12,"v":0.94},{"r":5,"c":13,"v":0.94},{"r":5,"c":14,"v":1},{"r":5,"c":15,"v":0.95},{"r":5,"c":16,"v":0.83},{"r":5,"c":17,"v":0.84},{"r":5,"c":18,"v":0.84},{"r":5,"c":19,"v":0.88},
{"r":6,"c":0,"v":0.7},{"r":6,"c":1,"v":0.75},{"r":6,"c":2,"v":0.63},{"r":6,"c":3,"v":0.68},{"r":6,"c":4,"v":0.72},{"r":6,"c":5,"v":0.72},{"r":6,"c":6,"v":0.68},{"r":6,"c":7,"v":0.63},{"r":6,"c":8,"v":0.71},{"r":6,"c":9,"v":0.67},{"r":6,"c":10,"v":0.94},{"r":6,"c":11,"v":0.94},{"r":6,"c":12,"v":0.95},{"r":6,"c":13,"v":1},{"r":6,"c":14,"v":0.94},{"r":6,"c":15,"v":0.94},{"r":6,"c":16,"v":0.83},{"r":6,"c":17,"v":0.83},{"r":6,"c":18,"v":0.82},{"r":6,"c":19,"v":0.82},
{"r":7,"c":0,"v":0.68},{"r":7,"c":1,"v":0.72},{"r":7,"c":2,"v":0.63},{"r":7,"c":3,"v":0.63},{"r":7,"c":4,"v":0.68},{"r":7,"c":5,"v":0.68},{"r":7,"c":6,"v":0.62},{"r":7,"c":7,"v":0.62},{"r":7,"c":8,"v":0.64},{"r":7,"c":9,"v":0.64},{"r":7,"c":10,"v":0.94},{"r":7,"c":11,"v":0.96},{"r":7,"c":12,"v":1},{"r":7,"c":13,"v":0.98},{"r":7,"c":14,"v":0.94},{"r":7,"c":15,"v":0.94},{"r":7,"c":16,"v":0.82},{"r":7,"c":17,"v":0.81},{"r":7,"c":18,"v":0.84},{"r":7,"c":19,"v":0.83},
{"r":8,"c":0,"v":0.69},{"r":8,"c":1,"v":0.7},{"r":8,"c":2,"v":0.7},{"r":8,"c":3,"v":0.63},{"r":8,"c":4,"v":0.72},{"r":8,"c":5,"v":0.69},{"r":8,"c":6,"v":0.63},{"r":8,"c":7,"v":0.66},{"r":8,"c":8,"v":0.7},{"r":8,"c":9,"v":0.71},{"r":8,"c":10,"v":0.9},{"r":8,"c":11,"v":1},{"r":8,"c":12,"v":0.96},{"r":8,"c":13,"v":0.95},{"r":8,"c":14,"v":0.94},{"r":8,"c":15,"v":0.94},{"r":8,"c":16,"v":0.83},{"r":8,"c":17,"v":0.82},{"r":8,"c":18,"v":0.82},{"r":8,"c":19,"v":0.82},
{"r":9,"c":0,"v":0.72},{"r":9,"c":1,"v":0.76},{"r":9,"c":2,"v":0.7},{"r":9,"c":3,"v":0.71},{"r":9,"c":4,"v":0.72},{"r":9,"c":5,"v":0.71},{"r":9,"c":6,"v":0.71},{"r":9,"c":7,"v":0.71},{"r":9,"c":8,"v":0.7},{"r":9,"c":9,"v":0.73},{"r":9,"c":10,"v":1},{"r":9,"c":11,"v":0.89},{"r":9,"c":12,"v":0.94},{"r":9,"c":13,"v":0.94},{"r":9,"c":14,"v":0.91},{"r":9,"c":15,"v":0.9},{"r":9,"c":16,"v":0.79},{"r":9,"c":17,"v":0.83},{"r":9,"c":18,"v":0.82},{"r":9,"c":19,"v":0.82},
{"r":10,"c":0,"v":0.89},{"r":10,"c":1,"v":0.84},{"r":10,"c":2,"v":0.83},{"r":10,"c":3,"v":0.8},{"r":10,"c":4,"v":0.83},{"r":10,"c":5,"v":0.83},{"r":10,"c":6,"v":0.82},{"r":10,"c":7,"v":0.8},{"r":10,"c":8,"v":0.84},{"r":10,"c":9,"v":1},{"r":10,"c":10,"v":0.73},{"r":10,"c":11,"v":0.72},{"r":10,"c":12,"v":0.7},{"r":10,"c":13,"v":0.68},{"r":10,"c":14,"v":0.7},{"r":10,"c":15,"v":0.72},{"r":10,"c":16,"v":0.78},{"r":10,"c":17,"v":0.78},{"r":10,"c":18,"v":0.72},{"r":10,"c":19,"v":0.8},
{"r":11,"c":0,"v":0.86},{"r":11,"c":1,"v":0.86},{"r":11,"c":2,"v":0.79},{"r":11,"c":3,"v":0.82},{"r":11,"c":4,"v":0.82},{"r":11,"c":5,"v":0.82},{"r":11,"c":6,"v":0.83},{"r":11,"c":7,"v":0.85},{"r":11,"c":8,"v":1},{"r":11,"c":9,"v":0.84},{"r":11,"c":10,"v":0.72},{"r":11,"c":11,"v":0.68},{"r":11,"c":12,"v":0.68},{"r":11,"c":13,"v":0.7},{"r":11,"c":14,"v":0.72},{"r":11,"c":15,"v":0.72},{"r":11,"c":16,"v":0.78},{"r":11,"c":17,"v":0.78},{"r":11,"c":18,"v":0.72},{"r":11,"c":19,"v":0.79},
{"r":12,"c":0,"v":0.84},{"r":12,"c":1,"v":0.89},{"r":12,"c":2,"v":0.82},{"r":12,"c":3,"v":0.96},{"r":12,"c":4,"v":0.96},{"r":12,"c":5,"v":0.93},{"r":12,"c":6,"v":0.97},{"r":12,"c":7,"v":1},{"r":12,"c":8,"v":0.83},{"r":12,"c":9,"v":0.82},{"r":12,"c":10,"v":0.7},{"r":12,"c":11,"v":0.63},{"r":12,"c":12,"v":0.63},{"r":12,"c":13,"v":0.65},{"r":12,"c":14,"v":0.68},{"r":12,"c":15,"v":0.63},{"r":12,"c":16,"v":0.66},{"r":12,"c":17,"v":0.72},{"r":12,"c":18,"v":0.66},{"r":12,"c":19,"v":0.78},
{"r":13,"c":0,"v":0.86},{"r":13,"c":1,"v":0.93},{"r":13,"c":2,"v":0.9},{"r":13,"c":3,"v":0.96},{"r":13,"c":4,"v":0.96},{"r":13,"c":5,"v":0.96},{"r":13,"c":6,"v":1},{"r":13,"c":7,"v":0.97},{"r":13,"c":8,"v":0.82},{"r":13,"c":9,"v":0.81},{"r":13,"c":10,"v":0.72},{"r":13,"c":11,"v":0.65},{"r":13,"c":12,"v":0.65},{"r":13,"c":13,"v":0.7},{"r":13,"c":14,"v":0.72},{"r":13,"c":15,"v":0.68},{"r":13,"c":16,"v":0.72},{"r":13,"c":17,"v":0.72},{"r":13,"c":18,"v":0.72},{"r":13,"c":19,"v":0.8},
{"r":14,"c":0,"v":0.86},{"r":14,"c":1,"v":0.89},{"r":14,"c":2,"v":0.94},{"r":14,"c":3,"v":0.96},{"r":14,"c":4,"v":1},{"r":14,"c":5,"v":1},{"r":14,"c":6,"v":0.96},{"r":14,"c":7,"v":0.96},{"r":14,"c":8,"v":0.84},{"r":14,"c":9,"v":0.84},{"r":14,"c":10,"v":0.72},{"r":14,"c":11,"v":0.7},{"r":14,"c":12,"v":0.7},{"r":14,"c":13,"v":0.74},{"r":14,"c":14,"v":0.72},{"r":14,"c":15,"v":0.72},{"r":14,"c":16,"v":0.74},{"r":14,"c":17,"v":0.74},{"r":14,"c":18,"v":0.74},{"r":14,"c":19,"v":0.83},
{"r":15,"c":0,"v":0.86},{"r":15,"c":1,"v":0.93},{"r":15,"c":2,"v":0.94},{"r":15,"c":3,"v":0.96},{"r":15,"c":4,"v":1},{"r":15,"c":5,"v":1},{"r":15,"c":6,"v":0.96},{"r":15,"c":7,"v":0.96},{"r":15,"c":8,"v":0.84},{"r":15,"c":9,"v":0.82},{"r":15,"c":10,"v":0.73},{"r":15,"c":11,"v":0.72},{"r":15,"c":12,"v":0.72},{"r":15,"c":13,"v":0.75},{"r":15,"c":14,"v":0.73},{"r":15,"c":15,"v":0.72},{"r":15,"c":16,"v":0.75},{"r":15,"c":17,"v":0.8},{"r":15,"c":18,"v":0.74},{"r":15,"c":19,"v":0.83},
{"r":16,"c":0,"v":0.86},{"r":16,"c":1,"v":0.9},{"r":16,"c":2,"v":0.87},{"r":16,"c":3,"v":1},{"r":16,"c":4,"v":0.96},{"r":16,"c":5,"v":0.96},{"r":16,"c":6,"v":0.96},{"r":16,"c":7,"v":0.96},{"r":16,"c":8,"v":0.83},{"r":16,"c":9,"v":0.8},{"r":16,"c":10,"v":0.72},{"r":16,"c":11,"v":0.64},{"r":16,"c":12,"v":0.64},{"r":16,"c":13,"v":0.7},{"r":16,"c":14,"v":0.72},{"r":16,"c":15,"v":0.63},{"r":16,"c":16,"v":0.66},{"r":16,"c":17,"v":0.72},{"r":16,"c":18,"v":0.72},{"r":16,"c":19,"v":0.78},
{"r":17,"c":0,"v":0.86},{"r":17,"c":1,"v":0.8},{"r":17,"c":2,"v":1},{"r":17,"c":3,"v":0.87},{"r":17,"c":4,"v":0.94},{"r":17,"c":5,"v":0.94},{"r":17,"c":6,"v":0.89},{"r":17,"c":7,"v":0.8},{"r":17,"c":8,"v":0.8},{"r":17,"c":9,"v":0.84},{"r":17,"c":10,"v":0.72},{"r":17,"c":11,"v":0.71},{"r":17,"c":12,"v":0.66},{"r":17,"c":13,"v":0.66},{"r":17,"c":14,"v":0.72},{"r":17,"c":15,"v":0.66},{"r":17,"c":16,"v":0.74},{"r":17,"c":17,"v":0.74},{"r":17,"c":18,"v":0.74},{"r":17,"c":19,"v":0.8},
{"r":18,"c":0,"v":0.93},{"r":18,"c":1,"v":1},{"r":18,"c":2,"v":0.8},{"r":18,"c":3,"v":0.89},{"r":18,"c":4,"v":0.89},{"r":18,"c":5,"v":0.89},{"r":18,"c":6,"v":0.93},{"r":18,"c":7,"v":0.89},{"r":18,"c":8,"v":0.86},{"r":18,"c":9,"v":0.82},{"r":18,"c":10,"v":0.76},{"r":18,"c":11,"v":0.73},{"r":18,"c":12,"v":0.73},{"r":18,"c":13,"v":0.76},{"r":18,"c":14,"v":0.76},{"r":18,"c":15,"v":0.76},{"r":18,"c":16,"v":0.79},{"r":18,"c":17,"v":0.8},{"r":18,"c":18,"v":0.78},{"r":18,"c":19,"v":0.82},
{"r":19,"c":0,"v":1},{"r":19,"c":1,"v":0.92},{"r":19,"c":2,"v":0.86},{"r":19,"c":3,"v":0.86},{"r":19,"c":4,"v":0.86},{"r":19,"c":5,"v":0.86},{"r":19,"c":6,"v":0.86},{"r":19,"c":7,"v":0.86},{"r":19,"c":8,"v":0.82},{"r":19,"c":9,"v":0.87},{"r":19,"c":10,"v":0.91},{"r":19,"c":11,"v":0.73},{"r":19,"c":12,"v":0.73},{"r":19,"c":13,"v":0.68},{"r":19,"c":14,"v":0.72},{"r":19,"c":15,"v":0.74},{"r":19,"c":16,"v":0.74},{"r":19,"c":17,"v":0.82},{"r":19,"c":18,"v":0.8},{"r":19,"c":19,"v":0.8}
]},
"vconcat":[
{"hconcat":[
{"width":200,"height":187,"layer":[
{"data":{"values":[{"a":118,"b":315,"c":75,"d":75},{"a":118,"b":118,"c":75,"d":328},{"a":315,"b":315,"c":75,"d":185},{"a":68,"b":168,"c":328,"d":328},{"a":68,"b":68,"c":328,"d":355},{"a":168,"b":168,"c":328,"d":355},{"a":266,"b":364,"c":185,"d":185},{"a":266,"b":266,"c":185,"d":212},{"a":364,"b":364,"c":185,"d":212}]},"mark":{"type":"rule","color":"#444","strokeWidth":1},"encoding":{"x":{"field":"a","type":"quantitative","axis":null,"scale":{"domain":[0,600],"nice":false}},"x2":{"field":"b"},"y":{"field":"c","type":"quantitative","axis":null,"scale":{"domain":[0,561],"reverse":true,"nice":false}},"y2":{"field":"d"}}},
{"data":{"values":[{"a":68,"c":457,"l":"chicken_lung"},{"a":168,"c":463,"l":"chicken_spleen"},{"a":264,"c":312,"l":"mouse_lung"},{"a":360,"c":309,"l":"mouse_spleen"}]},"mark":{"type":"text","angle":270,"fontSize":8.5,"color":"#333","align":"center","baseline":"middle"},"encoding":{"x":{"field":"a","type":"quantitative"},"y":{"field":"c","type":"quantitative"},"text":{"field":"l"}}},
{"data":{"values":[{"a":212,"c":66,"l":"au","k":"r"},{"a":237,"c":66,"l":"bp","k":"t"},{"a":105,"c":320,"l":"100","k":"r"},{"a":143,"c":320,"l":"100","k":"t"},{"a":305,"c":175,"l":"98","k":"r"},{"a":332,"c":175,"l":"98","k":"t"}]},"mark":{"type":"text","fontSize":6.5},"encoding":{"x":{"field":"a","type":"quantitative"},"y":{"field":"c","type":"quantitative"},"text":{"field":"l"},"color":{"field":"k","type":"nominal","legend":null,"scale":{"domain":["r","t"],"range":["#F08A85","#45C4C8"]}}}},
{"data":{"values":[{"a":15,"c":39,"l":"A"},{"a":450,"c":36,"l":"B"}]},"mark":{"type":"text","fontSize":16,"fontWeight":"bold","align":"left","baseline":"alphabetic","color":"#111"},"encoding":{"x":{"field":"a","type":"quantitative"},"y":{"field":"c","type":"quantitative"},"text":{"field":"l"}}}
],"resolve":{"scale":{"color":"independent"}}},
{"width":155,"height":186,"view":{"stroke":"#555","strokeWidth":1},"data":{"name":"pts"},"mark":{"type":"point","filled":true,"size":14,"opacity":1},"encoding":{
"x":{"field":"t","type":"quantitative","title":"SplitTime","scale":{"domain":[-11.2,335],"nice":false,"zero":false},"axis":{"values":[0,50,100,150,200,250,300],"labelExpr":"datum.value%100===0?datum.value:''","grid":true,"gridColor":"#ebebeb","gridWidth":{"condition":{"test":"datum.value%100!==0","value":0.6},"value":1},"tickOpacity":{"condition":{"test":"datum.value%100!==0","value":0},"value":1},"domain":false,"tickColor":"#444","tickSize":2.5,"labelColor":"#555","labelFontSize":7,"labelPadding":2,"titleFontSize":8.5,"titleColor":"#222","titlePadding":4}},
"y":{"field":"g","type":"quantitative","title":"gamma","scale":{"domain":[-0.181,0.94],"nice":false,"zero":false},"axis":{"values":[-0.125,0,0.125,0.25,0.375,0.5,0.625,0.75,0.875],"labelExpr":"datum.value*4%1===0?format(datum.value,'.2f'):''","grid":true,"gridColor":"#ebebeb","gridWidth":{"condition":{"test":"datum.value*4%1!==0","value":0.6},"value":1},"tickOpacity":{"condition":{"test":"datum.value*4%1!==0","value":0},"value":1},"domain":false,"tickColor":"#444","tickSize":2.5,"labelColor":"#555","labelFontSize":7,"labelPadding":2,"titleFontSize":8.5,"titleColor":"#222","titlePadding":5}},
"color":{"field":"k","type":"nominal","scale":{"domain":["By Species","By Tissue"],"range":["#E8736C","#1DB8BE"]},"legend":{"title":null,"orient":"none","legendX":160,"legendY":122,"labelFontSize":8.5,"labelColor":"#222","symbolType":"circle","symbolSize":22,"rowPadding":4,"labelOffset":4}},
"shape":{"field":"s","type":"nominal","scale":{"domain":["Brawand","Merkin","Tschopp"],"range":["circle","triangle-up","square"]},"legend":{"title":null,"orient":"none","legendX":160,"legendY":59,"labelFontSize":8.5,"labelColor":"#222","symbolSize":14,"symbolFillColor":"#111","symbolStrokeColor":"#111","rowPadding":4,"labelOffset":4}}}},
{"width":108,"height":187,"data":{"values":[{"a":189,"c":36,"l":"C"}]},"mark":{"type":"text","fontSize":16,"fontWeight":"bold","align":"left","baseline":"alphabetic","color":"#111"},"encoding":{"x":{"field":"a","type":"quantitative","axis":null,"scale":{"domain":[0,324],"nice":false}},"y":{"field":"c","type":"quantitative","axis":null,"scale":{"domain":[0,561],"reverse":true,"nice":false}},"text":{"field":"l"}}},
{"vconcat":[
{"width":206,"height":19,"data":{"values":[{"l":""}]},"mark":{"type":"text"},"encoding":{"text":{"field":"l"}}},
{"width":206,"height":48,"encoding":{"y":{"field":"n","type":"quantitative","title":"correlated genes","scale":{"domain":[-200,4350],"nice":false,"zero":false},"axis":{"values":[0,1000,2000,3000,4000],"format":"d","labelFontSize":6.5,"labelColor":"#333","domainWidth":1.5,"domainColor":"#222","tickColor":"#222","tickSize":2,"labelPadding":2,"grid":false,"titleFontSize":8,"titleColor":"#333","titlePadding":3}}},"layer":[
{"data":{"values":[{"i":0,"n":4100},{"i":1,"n":2450},{"i":2,"n":2450},{"i":3,"n":2250},{"i":4,"n":1500},{"i":5,"n":1430},{"i":6,"n":1230},{"i":7,"n":1100},{"i":8,"n":80},{"i":9,"n":60},{"i":10,"n":60},{"i":11,"n":50},{"i":12,"n":40},{"i":13,"n":30},{"i":14,"n":20}]},"mark":{"type":"bar","color":"#555"},"encoding":{"x":{"field":"i","type":"ordinal","title":null,"scale":{"paddingInner":0.07,"paddingOuter":0.12},"axis":{"labels":false,"domainWidth":2,"domainColor":"#222","tickColor":"#222","tickSize":2,"title":null}}}},
{"data":{"values":[{"a":0.04,"b":1.27,"n":4190,"d":5985},{"a":8.02,"b":9.67,"n":346,"d":2615},{"a":12.09,"b":12.14,"n":-1070,"d":-1950}]},"mark":{"type":"rule","color":"#111","strokeWidth":1},"encoding":{"x":{"field":"a","type":"quantitative","axis":null,"scale":{"domain":[-0.648,14.6],"nice":false,"zero":false}},"x2":{"field":"b"},"y2":{"field":"d"}}},
{"data":{"values":[{"a":8.98,"b":8.88,"n":250,"d":1450},{"a":10.02,"b":14.07,"n":-1070,"d":-1070},{"a":10.02,"b":10.02,"n":-1070,"d":-535},{"a":14.07,"b":14.07,"n":-1070,"d":-535}]},"mark":{"type":"rule","color":"#888","strokeWidth":1},"encoding":{"x":{"field":"a","type":"quantitative","axis":null,"scale":{"domain":[-0.648,14.6],"nice":false,"zero":false}},"x2":{"field":"b"},"y2":{"field":"d"}}},
{"data":{"values":[{"a":1.27,"n":5985},{"a":9.67,"n":2615}]},"mark":{"type":"point","shape":"triangle-up","filled":true,"opacity":1,"size":16,"color":"#111","angle":42},"encoding":{"x":{"field":"a","type":"quantitative","axis":null,"scale":{"domain":[-0.648,14.6],"nice":false,"zero":false}}}},
{"data":{"values":[{"a":12.14,"n":-1950}]},"mark":{"type":"point","shape":"triangle-up","filled":true,"opacity":1,"size":16,"color":"#111","angle":180},"encoding":{"x":{"field":"a","type":"quantitative","axis":null,"scale":{"domain":[-0.648,14.6],"nice":false,"zero":false}}}},
{"data":{"values":[{"a":1.35,"n":6140,"l":"brain vs cerebellum"},{"a":8.12,"n":3500,"l":"brain/cerebelum vs liver"},{"a":9.38,"n":-2960,"l":"testes comparisons"}]},"mark":{"type":"text","fontSize":8.2,"color":"#333","align":"left","baseline":"middle"},"encoding":{"x":{"field":"a","type":"quantitative","axis":null,"scale":{"domain":[-0.648,14.6],"nice":false,"zero":false}},"text":{"field":"l"}}}
],"resolve":{"scale":{"x":"independent"},"axis":{"x":"independent"}}},
{"width":206,"height":72,"data":{"values":[{"i":0,"n":550},{"i":1,"n":1120},{"i":2,"n":1170},{"i":3,"n":920},{"i":4,"n":680},{"i":5,"n":400},{"i":6,"n":320},{"i":7,"n":235},{"i":8,"n":195},{"i":9,"n":45},{"i":10,"n":20},{"i":11,"n":5},{"i":12,"n":5},{"i":13,"n":5},{"i":14,"n":3},{"i":15,"n":3}]},"mark":{"type":"bar","color":"#555"},"encoding":{"x":{"field":"i","type":"ordinal","title":null,"scale":{"paddingInner":0.07,"paddingOuter":0.12},"axis":{"labelAngle":0,"labelFontSize":6.5,"labelColor":"#333","domainWidth":2,"domainColor":"#222","tickColor":"#222","tickSize":2,"labelPadding":2}},"y":{"field":"n","type":"quantitative","title":"Freq","scale":{"domain":[-60,1240],"nice":false,"zero":false},"axis":{"values":[0,300,600,900,1200],"format":"d","labelFontSize":6.5,"labelColor":"#333","domainWidth":1.5,"domainColor":"#222","tickColor":"#222","tickSize":2,"labelPadding":2,"grid":false,"titleFontSize":8,"titleColor":"#333","titlePadding":7}}}}
],"spacing":24,"bounds":"flush"}
],"spacing":0,"bounds":"flush","resolve":{"scale":{"color":"independent","shape":"independent","stroke":"independent"},"legend":{"color":"independent","shape":"independent"}}},
{"hconcat":[
{"width":53,"height":203,"layer":[
{"data":{"values":[{"a":108,"b":165,"r":0,"s":0},{"a":108,"b":165,"r":1,"s":1},{"a":108,"b":108,"r":0,"s":1},{"a":148,"b":165,"r":2,"s":2},{"a":148,"b":165,"r":3,"s":3},{"a":148,"b":148,"r":2,"s":3},{"a":132,"b":148,"r":2.5,"s":2.5},{"a":132,"b":132,"r":2.5,"s":4},{"a":132,"b":165,"r":4,"s":4},{"a":125,"b":132,"r":3.25,"s":3.25},{"a":125,"b":125,"r":3.25,"s":5},{"a":125,"b":165,"r":5,"s":5},{"a":118,"b":125,"r":4.1,"s":4.1},{"a":118,"b":118,"r":4.1,"s":7},{"a":118,"b":165,"r":6,"s":6},{"a":118,"b":165,"r":7,"s":7},{"a":60,"b":118,"r":6,"s":6},{"a":60,"b":108,"r":0.5,"s":0.5},{"a":60,"b":60,"r":0.5,"s":6},{"a":52,"b":60,"r":3.3,"s":3.3},{"a":148,"b":165,"r":8,"s":8},{"a":148,"b":165,"r":9,"s":9},{"a":148,"b":148,"r":8,"s":9},{"a":125,"b":148,"r":8.5,"s":8.5},{"a":125,"b":125,"r":8.5,"s":10},{"a":125,"b":165,"r":10,"s":10},{"a":120,"b":125,"r":9.25,"s":9.25},{"a":120,"b":120,"r":9.25,"s":11},{"a":120,"b":165,"r":11,"s":11},{"a":115,"b":120,"r":10.1,"s":10.1},{"a":115,"b":115,"r":10.1,"s":12},{"a":115,"b":165,"r":12,"s":12},{"a":108,"b":115,"r":11,"s":11},{"a":108,"b":108,"r":11,"s":13},{"a":108,"b":165,"r":13,"s":13},{"a":52,"b":108,"r":12.2,"s":12.2},{"a":52,"b":52,"r":3.3,"s":12.2},{"a":25,"b":52,"r":7.8,"s":7.8},{"a":90,"b":165,"r":14,"s":14},{"a":90,"b":165,"r":15,"s":15},{"a":90,"b":90,"r":14,"s":15},{"a":25,"b":90,"r":14.5,"s":14.5},{"a":25,"b":25,"r":7.8,"s":14.5},{"a":5,"b":25,"r":11,"s":11},{"a":87,"b":165,"r":16,"s":16},{"a":87,"b":165,"r":17,"s":17},{"a":87,"b":87,"r":16,"s":17},{"a":5,"b":87,"r":16.5,"s":16.5},{"a":5,"b":5,"r":11,"s":16.5},{"a":0,"b":5,"r":14,"s":14},{"a":105,"b":165,"r":18,"s":18},{"a":105,"b":165,"r":19,"s":19},{"a":105,"b":105,"r":18,"s":19},{"a":0,"b":105,"r":18.5,"s":18.5},{"a":0,"b":0,"r":14,"s":18.5}]},"mark":{"type":"rule","color":"#555","strokeWidth":1},"encoding":{"x":{"field":"a","type":"quantitative","axis":null,"scale":{"domain":[0,159],"nice":false}},"x2":{"field":"b"},"y":{"field":"r","type":"quantitative","axis":null,"scale":{"domain":[-0.5,19.5],"reverse":true,"nice":false,"zero":false}},"y2":{"field":"s"}}},
{"data":{"values":[{"a":185,"b":200,"r":-0.5,"s":-2.4},{"a":200,"b":218,"r":-2.4,"s":-2.4},{"a":222,"b":240,"r":-0.5,"s":-1.29},{"a":240,"b":355,"r":-1.29,"s":-1.29}]},"mark":{"type":"rule","color":"#888","strokeWidth":1},"encoding":{"x":{"field":"a","type":"quantitative","axis":null,"scale":{"domain":[0,159],"nice":false}},"x2":{"field":"b"},"y":{"field":"r","type":"quantitative","axis":null,"scale":{"domain":[-0.5,19.5],"reverse":true,"nice":false,"zero":false}},"y2":{"field":"s"}}},
{"data":{"values":[{"a":0,"r":-2.8,"l":"D"}]},"mark":{"type":"text","fontSize":16,"fontWeight":"bold","align":"left","baseline":"alphabetic","color":"#111"},"encoding":{"x":{"field":"a","type":"quantitative","axis":null,"scale":{"domain":[0,159],"nice":false}},"y":{"field":"r","type":"quantitative","axis":null,"scale":{"domain":[-0.5,19.5],"reverse":true,"nice":false,"zero":false}},"text":{"field":"l"}}}
]},
{"width":24,"height":203,"data":{"values":[{"r":0,"p":"mouse","t":"cerebellum"},{"r":1,"p":"mouse","t":"forebrain"},{"r":2,"p":"primates","t":"forebrain"},{"r":3,"p":"primates","t":"forebrain"},{"r":4,"p":"primates","t":"forebrain"},{"r":5,"p":"primates","t":"forebrain"},{"r":6,"p":"primates","t":"forebrain"},{"r":7,"p":"primates","t":"forebrain"},{"r":8,"p":"primates","t":"cerebellum"},{"r":9,"p":"primates","t":"cerebellum"},{"r":10,"p":"primates","t":"cerebellum"},{"r":11,"p":"primates","t":"cerebellum"},{"r":12,"p":"primates","t":"cerebellum"},{"r":13,"p":"primates","t":"cerebellum"},{"r":14,"p":"opossum","t":"cerebellum"},{"r":15,"p":"opossum","t":"forebrain"},{"r":16,"p":"chicken","t":"cerebellum"},{"r":17,"p":"chicken","t":"forebrain"},{"r":18,"p":"platypus","t":"cerebellum"},{"r":19,"p":"platypus","t":"forebrain"}]},"layer":[
{"mark":{"type":"rect","strokeWidth":0.5},"encoding":{"x":{"datum":"species","type":"nominal","axis":null,"scale":{"domain":["species","tissue"],"paddingInner":0.06,"paddingOuter":0}},"y":{"field":"r","type":"ordinal","axis":null},"stroke":{"field":"p","type":"nominal","legend":null,"scale":{"domain":["chicken","primates","opossum","mouse","platypus"],"range":["#F6B3B3","#B1CCE3","#CFE6CB","#DDC8E2","#FDDBAF"]}},"color":{"field":"p","type":"nominal","scale":{"domain":["chicken","primates","opossum","mouse","platypus"],"range":["#F6B3B3","#B1CCE3","#CFE6CB","#DDC8E2","#FDDBAF"]},"legend":{"title":null,"orient":"none","legendX":16,"legendY":-29,"direction":"horizontal","columns":5,"gridAlign":"each","symbolType":"square","symbolSize":30,"symbolStrokeWidth":0,"labelFontSize":8,"labelColor":"#333","labelOffset":2,"columnPadding":3,"padding":4,"strokeColor":"#777"}}}},
{"mark":{"type":"rect","strokeWidth":0.5},"encoding":{"x":{"datum":"tissue","type":"nominal","axis":null,"scale":{"domain":["species","tissue"],"paddingInner":0.06,"paddingOuter":0}},"y":{"field":"r","type":"ordinal","axis":null},"stroke":{"field":"t","type":"nominal","legend":null,"scale":{"domain":["forebrain","cerebellum"],"range":["#F3E4D1","#C8C8C8"]}},"color":{"field":"t","type":"nominal","scale":{"domain":["forebrain","cerebellum"],"range":["#F3E4D1","#C8C8C8"]},"legend":{"title":null,"orient":"none","legendX":63,"legendY":-14,"direction":"horizontal","columns":2,"gridAlign":"each","symbolType":"square","symbolSize":30,"symbolStrokeWidth":0,"labelFontSize":8,"labelColor":"#333","labelOffset":6,"columnPadding":13,"padding":4}}}}
],"resolve":{"scale":{"color":"independent","stroke":"independent"}}},
{"width":201,"height":203,"data":{"name":"hd"},"layer":[
{"mark":{"type":"rect","filled":false,"strokeWidth":0.5},"encoding":{"x":{"field":"c","type":"ordinal","axis":null},"y":{"field":"r","type":"ordinal","axis":null},"stroke":{"field":"v","type":"quantitative","legend":null,"scale":{"domain":[0.5,0.6,0.65,0.7,0.75,0.8,0.85,0.9,0.95,1.0001],"range":["#3C97B0","#6FB0C4","#8FBFBF","#A9C08C","#D3CC55","#ECCA1E","#E9B420","#E88F22","#EE6026","#EE2622"]}}}},
{"mark":{"type":"rect"},"encoding":{"x":{"field":"c","type":"ordinal","axis":null},"y":{"field":"r","type":"ordinal","axis":null},"color":{"field":"v","type":"quantitative","scale":{"domain":[0.5,0.6,0.65,0.7,0.75,0.8,0.85,0.9,0.95,1],"range":["#3C97B0","#6FB0C4","#8FBFBF","#A9C08C","#D3CC55","#ECCA1E","#E9B420","#E88F22","#EE6026","#EE2622"]},"legend":{"type":"gradient","title":null,"orient":"none","legendX":214,"legendY":0,"direction":"vertical","gradientLength":203,"gradientThickness":10,"values":[0.5,0.6,0.7,0.8,0.9,1],"format":".1f","labelFontSize":8.5,"labelColor":"#222","labelOffset":1}}}}
]},
{"width":63,"height":203,"data":{"values":[{"l":""}]},"mark":{"type":"text"},"encoding":{"text":{"field":"l"}}},
{"width":52,"height":203,"layer":[
{"data":{"values":[{"a":102,"b":160,"r":0,"s":0},{"a":102,"b":160,"r":1,"s":1},{"a":102,"b":102,"r":0,"s":1},{"a":82,"b":102,"r":0.5,"s":0.5},{"a":82,"b":82,"r":0.5,"s":2},{"a":82,"b":160,"r":2,"s":2},{"a":75,"b":82,"r":1.25,"s":1.25},{"a":75,"b":75,"r":1.25,"s":3},{"a":75,"b":160,"r":3,"s":3},{"a":67,"b":75,"r":2.2,"s":2.2},{"a":127,"b":160,"r":4,"s":4},{"a":127,"b":160,"r":5,"s":5},{"a":127,"b":127,"r":4,"s":5},{"a":124,"b":127,"r":4.5,"s":4.5},{"a":145,"b":160,"r":6,"s":6},{"a":145,"b":160,"r":7,"s":7},{"a":145,"b":145,"r":6,"s":7},{"a":124,"b":145,"r":6.5,"s":6.5},{"a":124,"b":124,"r":4.5,"s":6.5},{"a":122,"b":124,"r":5.5,"s":5.5},{"a":122,"b":122,"r":5.5,"s":8},{"a":122,"b":160,"r":8,"s":8},{"a":120,"b":122,"r":6.7,"s":6.7},{"a":120,"b":120,"r":6.7,"s":9},{"a":120,"b":160,"r":9,"s":9},{"a":67,"b":120,"r":7.6,"s":7.6},{"a":67,"b":67,"r":2.2,"s":7.6},{"a":0,"b":67,"r":4.9,"s":4.9},{"a":85,"b":160,"r":10,"s":10},{"a":85,"b":160,"r":11,"s":11},{"a":85,"b":85,"r":10,"s":11},{"a":78,"b":85,"r":10.5,"s":10.5},{"a":78,"b":78,"r":10.5,"s":16.9},{"a":0,"b":78,"r":13.7,"s":13.7},{"a":0,"b":0,"r":4.9,"s":13.7},{"a":135,"b":160,"r":12,"s":12},{"a":135,"b":160,"r":13,"s":13},{"a":135,"b":135,"r":12,"s":13},{"a":133,"b":135,"r":12.5,"s":12.5},{"a":145,"b":160,"r":14,"s":14},{"a":145,"b":160,"r":15,"s":15},{"a":145,"b":145,"r":14,"s":15},{"a":133,"b":145,"r":14.5,"s":14.5},{"a":133,"b":133,"r":12.5,"s":16},{"a":133,"b":160,"r":16,"s":16},{"a":110,"b":133,"r":13.6,"s":13.6},{"a":110,"b":160,"r":17,"s":17},{"a":110,"b":110,"r":13.6,"s":17},{"a":103,"b":110,"r":15.3,"s":15.3},{"a":120,"b":160,"r":18,"s":18},{"a":120,"b":160,"r":19,"s":19},{"a":120,"b":120,"r":18,"s":19},{"a":103,"b":120,"r":18.5,"s":18.5},{"a":103,"b":103,"r":15.3,"s":18.5},{"a":78,"b":103,"r":16.9,"s":16.9}]},"mark":{"type":"rule","color":"#555","strokeWidth":1},"encoding":{"x":{"field":"a","type":"quantitative","axis":null,"scale":{"domain":[0,156],"nice":false}},"x2":{"field":"b"},"y":{"field":"r","type":"quantitative","axis":null,"scale":{"domain":[-0.5,19.5],"reverse":true,"nice":false,"zero":false}},"y2":{"field":"s"}}},
{"data":{"values":[{"a":186,"b":201,"r":-0.5,"s":-2.4},{"a":201,"b":231,"r":-2.4,"s":-2.4},{"a":216,"b":246,"r":-0.5,"s":-1.29},{"a":246,"b":339,"r":-1.29,"s":-1.29}]},"mark":{"type":"rule","color":"#888","strokeWidth":1},"encoding":{"x":{"field":"a","type":"quantitative","axis":null,"scale":{"domain":[0,156],"nice":false}},"x2":{"field":"b"},"y":{"field":"r","type":"quantitative","axis":null,"scale":{"domain":[-0.5,19.5],"reverse":true,"nice":false,"zero":false}},"y2":{"field":"s"}}},
{"data":{"values":[{"a":-3,"r":-2.8,"l":"E"}]},"mark":{"type":"text","fontSize":16,"fontWeight":"bold","align":"left","baseline":"alphabetic","color":"#111"},"encoding":{"x":{"field":"a","type":"quantitative","axis":null,"scale":{"domain":[0,156],"nice":false}},"y":{"field":"r","type":"quantitative","axis":null,"scale":{"domain":[-0.5,19.5],"reverse":true,"nice":false,"zero":false}},"text":{"field":"l"}}}
]},
{"width":23,"height":203,"data":{"values":[{"r":0,"p":"mouse","t":"cerebellum"},{"r":1,"p":"opossum","t":"cerebellum"},{"r":2,"p":"platypus","t":"cerebellum"},{"r":3,"p":"chicken","t":"cerebellum"},{"r":4,"p":"primates","t":"cerebellum"},{"r":5,"p":"primates","t":"cerebellum"},{"r":6,"p":"primates","t":"cerebellum"},{"r":7,"p":"primates","t":"cerebellum"},{"r":8,"p":"primates","t":"cerebellum"},{"r":9,"p":"primates","t":"cerebellum"},{"r":10,"p":"platypus","t":"forebrain"},{"r":11,"p":"chicken","t":"forebrain"},{"r":12,"p":"primates","t":"forebrain"},{"r":13,"p":"primates","t":"forebrain"},{"r":14,"p":"primates","t":"forebrain"},{"r":15,"p":"primates","t":"forebrain"},{"r":16,"p":"primates","t":"forebrain"},{"r":17,"p":"primates","t":"forebrain"},{"r":18,"p":"mouse","t":"forebrain"},{"r":19,"p":"opossum","t":"forebrain"}]},"layer":[
{"mark":{"type":"rect","strokeWidth":0.5},"encoding":{"x":{"datum":"species","type":"nominal","axis":null,"scale":{"domain":["species","tissue"],"paddingInner":0.06,"paddingOuter":0}},"y":{"field":"r","type":"ordinal","axis":null},"stroke":{"field":"p","type":"nominal","legend":null,"scale":{"domain":["chicken","primates","opossum","mouse","platypus"],"range":["#F6B3B3","#B1CCE3","#CFE6CB","#DDC8E2","#FDDBAF"]}},"color":{"field":"p","type":"nominal","scale":{"domain":["chicken","primates","opossum","mouse","platypus"],"range":["#F6B3B3","#B1CCE3","#CFE6CB","#DDC8E2","#FDDBAF"]},"legend":{"title":null,"orient":"none","legendX":20,"legendY":-29,"direction":"horizontal","columns":5,"gridAlign":"each","symbolType":"square","symbolSize":30,"symbolStrokeWidth":0,"labelFontSize":8,"labelColor":"#333","labelOffset":2,"columnPadding":2,"padding":4}}}},
{"mark":{"type":"rect","strokeWidth":0.5},"encoding":{"x":{"datum":"tissue","type":"nominal","axis":null,"scale":{"domain":["species","tissue"],"paddingInner":0.06,"paddingOuter":0}},"y":{"field":"r","type":"ordinal","axis":null},"stroke":{"field":"t","type":"nominal","legend":null,"scale":{"domain":["forebrain","cerebellum"],"range":["#F3E4D1","#C8C8C8"]}},"color":{"field":"t","type":"nominal","scale":{"domain":["forebrain","cerebellum"],"range":["#F3E4D1","#C8C8C8"]},"legend":{"title":null,"orient":"none","legendX":58,"legendY":-14,"direction":"horizontal","columns":2,"gridAlign":"each","symbolType":"square","symbolSize":30,"symbolStrokeWidth":0,"labelFontSize":8,"labelColor":"#333","labelOffset":6,"columnPadding":13,"padding":4,"strokeColor":"#777"}}}}
],"resolve":{"scale":{"color":"independent","stroke":"independent"}}},
{"width":202,"height":203,"data":{"name":"he"},"layer":[
{"mark":{"type":"rect","filled":false,"strokeWidth":0.5},"encoding":{"x":{"field":"c","type":"ordinal","axis":null},"y":{"field":"r","type":"ordinal","axis":null},"stroke":{"field":"v","type":"quantitative","legend":null,"scale":{"domain":[0.5,0.6,0.65,0.7,0.75,0.8,0.85,0.9,0.95,1.0001],"range":["#3C97B0","#6FB0C4","#8FBFBF","#A9C08C","#D3CC55","#ECCA1E","#E9B420","#E88F22","#EE6026","#EE2622"]}}}},
{"mark":{"type":"rect"},"encoding":{"x":{"field":"c","type":"ordinal","axis":null},"y":{"field":"r","type":"ordinal","axis":null},"color":{"field":"v","type":"quantitative","scale":{"domain":[0.5,0.6,0.65,0.7,0.75,0.8,0.85,0.9,0.95,1],"range":["#3C97B0","#6FB0C4","#8FBFBF","#A9C08C","#D3CC55","#ECCA1E","#E9B420","#E88F22","#EE6026","#EE2622"]},"legend":{"type":"gradient","title":null,"orient":"none","legendX":210,"legendY":0,"direction":"vertical","gradientLength":203,"gradientThickness":10,"values":[0.5,0.6,0.7,0.8,0.9,1],"format":".1f","labelFontSize":8.5,"labelColor":"#222","labelOffset":1}}}}
]}
],"spacing":3,"bounds":"flush","resolve":{"scale":{"color":"independent","shape":"independent","stroke":"independent"},"legend":{"color":"independent","shape":"independent"}}}
]}
